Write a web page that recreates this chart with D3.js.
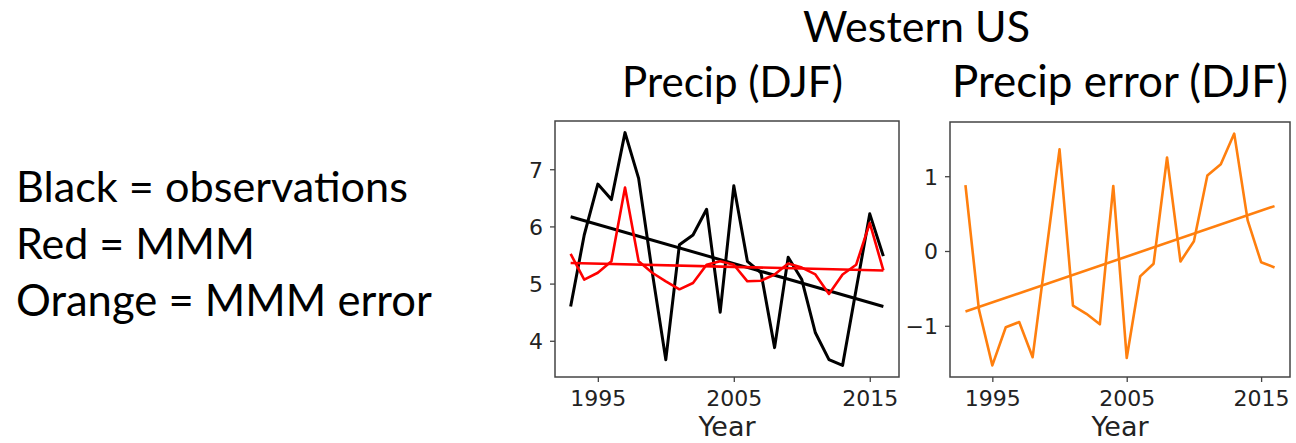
<!DOCTYPE html>
<html>
<head>
<meta charset="utf-8">
<script src="https://cdn.jsdelivr.net/npm/d3@7"></script>
<style>
  body { margin: 0; background: #fff; }
  svg { display: block; }
  .tick text { font-family: "DejaVu Sans", sans-serif; font-size: 22px; fill: #222; }
  .tick line { stroke: #444; stroke-width: 1.3; }
  .domain { display: none; }
  .slide { font-family: Lato, "Open Sans", sans-serif; fill: #000; }
</style>
</head>
<body>
<svg id="chart" width="1296" height="443"></svg>
<script>
const width = 1296;
const height = 443;

// data
const years = d3.range(1993, 2017);
const observed = [4.60, 5.85, 6.74, 6.47, 7.64, 6.84, 5.20, 3.67, 5.68, 5.85, 6.30, 4.50,
  6.71, 5.39, 5.19, 3.88, 5.46, 5.07, 4.14, 3.67, 3.57, 4.90, 6.22, 5.48];
const mmm = [5.52, 5.07, 5.19, 5.39, 6.68, 5.39, 5.19, 5.04, 4.90, 5.01, 5.33, 5.39,
  5.33, 5.04, 5.05, 5.16, 5.35, 5.28, 5.16, 4.82, 5.16, 5.33, 6.06, 5.23];
const mmmError = [0.88, -0.78, -1.53, -1.02, -0.95, -1.42, -0.03, 1.36, -0.73, -0.84, -0.98, 0.87,
  -1.43, -0.34, -0.17, 1.25, -0.14, 0.13, 1.01, 1.16, 1.57, 0.41, -0.15, -0.22];
// trend lines: value at first and last year
const trendYears = [1993, 2016];
const observedTrend = [6.17, 4.60];
const mmmTrend = [5.36, 5.23];
const errorTrend = [-0.81, 0.60];

const xTicks = [1995, 2005, 2015];
const leftTicks = [4, 5, 6, 7];
const rightTicks = [-1, 0, 1];
const legendLines = ["Black = observations", "Red = MMM", "Orange = MMM error"];

const svg = d3.select("#chart");

// shrink/grow text so its width matches the reference
function fitText(sel, target) {
  const w = sel.node().getComputedTextLength();
  const fs = parseFloat(sel.attr("font-size"));
  sel.attr("font-size", fs * target / w);
}

// matplotlib-like 5% margins
function padded(extent) {
  const m = (extent[1] - extent[0]) * 0.05;
  return [extent[0] - m, extent[1] + m];
}

function panel(opts) {
  const x = d3.scaleLinear().domain(padded(d3.extent(years))).range([opts.left, opts.right]);
  const y = d3.scaleLinear().domain(padded(opts.extent)).range([opts.bottom, opts.top]);

  const g = svg.append("g");

  g.append("g")
    .attr("transform", `translate(0,${opts.bottom})`)
    .call(d3.axisBottom(x).tickValues(xTicks).tickFormat(d3.format("d")).tickSize(5).tickPadding(8));

  g.append("g")
    .attr("transform", `translate(${opts.left},0)`)
    .call(d3.axisLeft(y).tickValues(opts.ticks).tickFormat(d3.format("d")).tickSize(5).tickPadding(7))
    .selectAll("text").attr("dy", "0.36em");

  const line = d3.line().x(d => x(d[0])).y(d => y(d[1]));

  opts.series.forEach(s => {
    g.append("path")
      .datum(years.map((yr, i) => [yr, s.values[i]]))
      .attr("fill", "none")
      .attr("stroke", s.color)
      .attr("stroke-width", s.width)
      .attr("stroke-linejoin", "round")
      .attr("d", line);
    g.append("path")
      .datum(trendYears.map((yr, i) => [yr, s.trend[i]]))
      .attr("fill", "none")
      .attr("stroke", s.color)
      .attr("stroke-width", s.width)
      .attr("d", line);
  });

  g.append("rect")
    .attr("x", opts.left)
    .attr("y", opts.top)
    .attr("width", opts.right - opts.left)
    .attr("height", opts.bottom - opts.top)
    .attr("fill", "none")
    .attr("stroke", "#444")
    .attr("stroke-width", 1.5);

  g.append("text")
    .attr("x", (opts.left + opts.right) / 2)
    .attr("y", 436)
    .attr("text-anchor", "middle")
    .attr("font-family", "DejaVu Sans, sans-serif")
    .attr("font-size", 27)
    .attr("fill", "#222")
    .text("Year");
}

panel({
  left: 555, right: 899, top: 121, bottom: 377,
  extent: d3.extent(observed.concat(mmm)),
  ticks: leftTicks,
  series: [
    { values: observed, trend: observedTrend, color: "#000", width: 3 },
    { values: mmm, trend: mmmTrend, color: "#ff0000", width: 2.6 }
  ]
});

panel({
  left: 950, right: 1290, top: 122, bottom: 377,
  extent: d3.extent(mmmError),
  ticks: rightTicks,
  series: [
    { values: mmmError, trend: errorTrend, color: "#ff7f0e", width: 2.6 }
  ]
});

// titles
const titles = [
  { text: "Western US", x: 916.5, y: 42, w: 227 },
  { text: "Precip (DJF)", x: 732.5, y: 97, w: 221 },
  { text: "Precip error (DJF)", x: 1120, y: 97, w: 336 }
];
titles.forEach(t => {
  const el = svg.append("text")
    .attr("class", "slide")
    .attr("x", t.x)
    .attr("y", t.y)
    .attr("text-anchor", "middle")
    .attr("font-size", 40)
    .text(t.text);
  fitText(el, t.w);
});

// legend text on the left
const legendWidths = [392, 239, 416];
legendLines.forEach((s, i) => {
  const el = svg.append("text")
    .attr("class", "slide")
    .attr("x", 16)
    .attr("y", 202 + i * 57)
    .attr("font-size", 40)
    .text(s);
  fitText(el, legendWidths[i]);
});
</script>
</body>
</html>
